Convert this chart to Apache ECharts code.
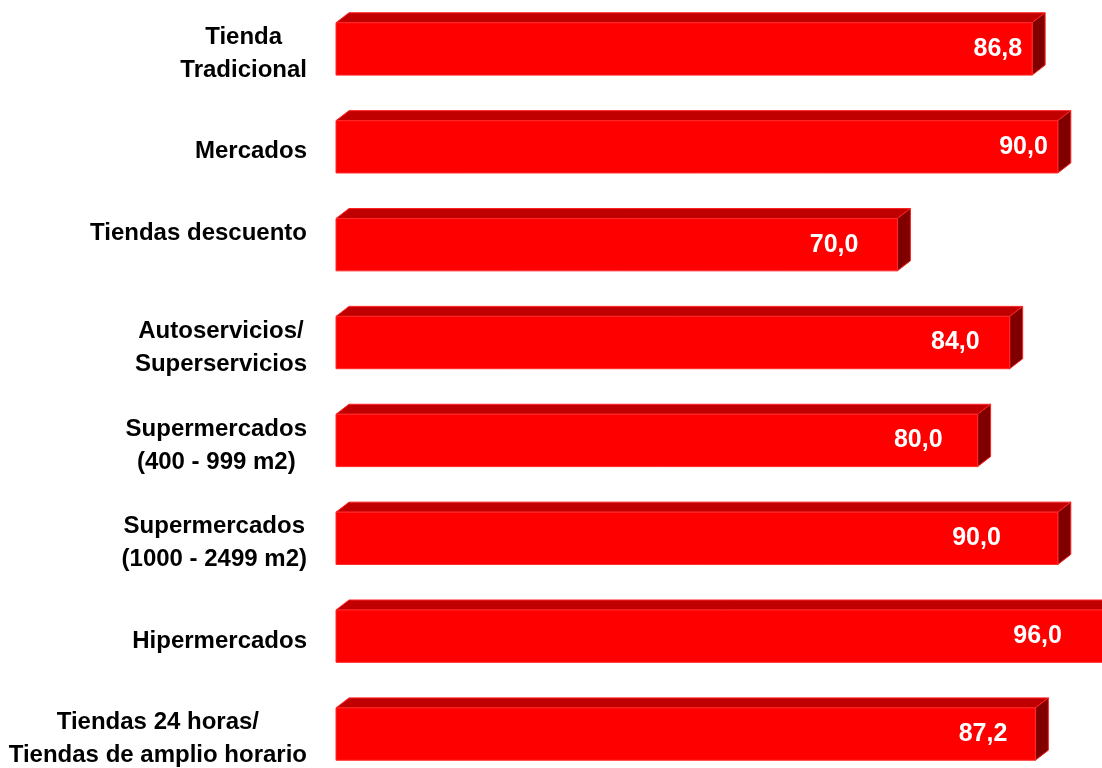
<!DOCTYPE html>
<html>
<head>
<meta charset="utf-8">
<script src="https://cdn.jsdelivr.net/npm/echarts@6/dist/echarts.min.js"></script>
<style>
  html, body { margin: 0; padding: 0; background: #fff; overflow: hidden; }
  #chart_box { width: 1140px; height: 800px; }
</style>
</head>
<body>
<div id="chart_box"></div>
<script>
// categorias (de arriba hacia abajo)
var categories = [
  "Tienda\nTradicional",
  "Mercados",
  "Tiendas descuento",
  "Autoservicios/\nSuperservicios",
  "Supermercados\n(400 - 999 m2)",
  "Supermercados\n(1000 - 2499 m2)",
  "Hipermercados",
  "Tiendas 24 horas/\nTiendas de amplio horario"
];
var values = [86.8, 90.0, 70.0, 84.0, 80.0, 90.0, 96.0, 87.2];

// distancia de la etiqueta al final de la barra (px)
var labelInset = [10, 10, 39, 30, 35, 57, 44, 28];

var DX = 13, DY = 10;

var chart = echarts.init(document.getElementById("chart_box"));

function renderBar(params, api) {
  var idx = params.dataIndex;
  var start = api.coord([0, api.value(1)]);
  var end = api.coord([api.value(0), api.value(1)]);
  var band = api.size([0, 1])[1];
  var h = band * 0.535;
  var x0 = start[0], x1 = end[0];
  var yt = end[1] - h / 2, yb = yt + h;
  var txt = values[idx].toFixed(1).replace(".", ",");
  return {
    type: "group",
    children: [
      {
        type: "polygon",
        shape: { points: [[x0, yt], [x0 + DX, yt - DY], [x1 + DX, yt - DY], [x1, yt]] },
        style: { fill: "#C00000", stroke: "#FF2020", lineWidth: 1 }
      },
      {
        type: "polygon",
        shape: { points: [[x1, yt], [x1 + DX, yt - DY], [x1 + DX, yb - DY], [x1, yb]] },
        style: { fill: "#800000", stroke: "#FF2020", lineWidth: 1 }
      },
      {
        type: "rect",
        shape: { x: x0, y: yt, width: x1 - x0, height: h },
        style: { fill: "#FF0000", stroke: "#FF2a2a", lineWidth: 1 }
      },
      {
        type: "text",
        style: {
          text: txt,
          x: x1 - labelInset[idx],
          y: end[1],
          align: "right",
          verticalAlign: "middle",
          fill: "#fff",
          font: 'bold 25px "Liberation Sans", Arial, sans-serif'
        }
      }
    ]
  };
}

var option = {
  animation: false,
  grid: { left: 336, top: -1, width: 802, height: 784 },
  xAxis: {
    type: "value",
    min: 0,
    max: 100,
    show: false
  },
  yAxis: {
    type: "category",
    inverse: true,
    data: categories.map(function (c, i) {
      // "Tiendas descuento" sits a bit higher in the original
      return i === 2 ? { value: c, textStyle: { padding: [0, 0, 22, 0] } } : c;
    }),
    axisLine: { show: false },
    axisTick: { show: false },
    axisLabel: {
      margin: 29,
      align: "right",
      formatter: function (v) {
        return v.split("\n").map(function (l) { return "{c|" + l + "}"; }).join("\n");
      },
      rich: {
        c: {
          align: "center",
          color: "#000",
          fontWeight: "bold",
          fontSize: 24,
          lineHeight: 33,
          fontFamily: '"Liberation Sans", Arial, sans-serif'
        }
      },
      padding: [10, 0, 0, 0]
    }
  },
  series: [
    {
      type: "custom",
      renderItem: renderBar,
      encode: { x: 0, y: 1 },
      data: values.map(function (v, i) { return [v, i]; })
    }
  ]
};

chart.setOption(option);
</script>
</body>
</html>
